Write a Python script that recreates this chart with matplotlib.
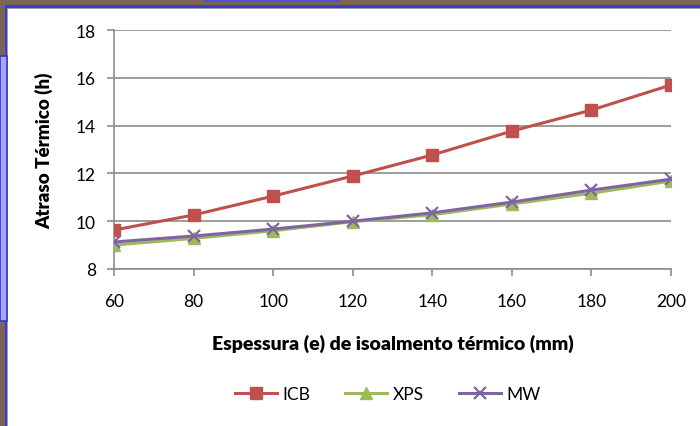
import matplotlib
matplotlib.use("Agg")
import matplotlib.pyplot as plt
from matplotlib.patches import Rectangle

espessura = [60, 80, 100, 120, 140, 160, 180, 200]
icb = [9.63, 10.26, 11.05, 11.89, 12.77, 13.77, 14.65, 15.70]
xps = [9.00, 9.28, 9.60, 9.98, 10.27, 10.72, 11.17, 11.68]
mw = [9.13, 9.38, 9.67, 10.00, 10.35, 10.80, 11.30, 11.76]
yticks = [8, 10, 12, 14, 16, 18]

plt.rcParams['font.family'] = ['Lato', 'DejaVu Sans']

W, H = 700, 427
fig = plt.figure(figsize=(7, 4.27), dpi=100)
fig.patch.set_facecolor('#7a6650')

def px_rect(x0, y0, x1, y1, fc, ec='none', lw=0, z=0):
    r = Rectangle((x0 / W, 1 - y1 / H), (x1 - x0) / W, (y1 - y0) / H,
                  transform=fig.transFigure, facecolor=fc, edgecolor=ec,
                  linewidth=lw, zorder=z)
    fig.patches.append(r)

# decorative screenshot frame
px_rect(5, 6, 700, 427, '#3a3ae0', z=-3)
px_rect(7, 9, 700, 427, '#a0a0a0', z=-2.9)
px_rect(8, 10, 700, 427, 'white', z=-2.8)
px_rect(0, 57, 7, 322, '#a6a6f5', ec='#3434d8', lw=1.2, z=-2.7)
px_rect(203, 0, 340, 3, '#5050e0', z=-2.7)

ax = fig.add_axes([114 / W, 1 - 270 / H, (671 - 114) / W, (270 - 31) / H])
ax.set_facecolor('none')
ax.set_zorder(1)

ax.plot(espessura, icb, color='#C0504D', lw=2.2, marker='s', ms=8.5, label='ICB', zorder=3)
ax.plot(espessura, xps, color='#9BBB59', lw=2.2, marker='^', ms=8.5, label='XPS', zorder=3)
ax.plot(espessura, mw, color='#8064A2', lw=2.2, marker='x', ms=8, mew=1.6, label='MW', zorder=4)

ax.set_xlim(60, 200)
ax.set_ylim(8, 18)
ax.set_xticks(espessura)
ax.set_yticks(yticks)
ax.grid(axis='y', color='#8c8c8c', lw=1.2)
ax.set_axisbelow(True)
for s in ['top', 'right']:
    ax.spines[s].set_visible(False)
for s in ['left', 'bottom']:
    ax.spines[s].set_color('#8c8c8c')
    ax.spines[s].set_linewidth(1.2)
ax.tick_params(axis='both', direction='out', length=5, color='#8c8c8c', width=1.2,
               labelsize=12.5, labelcolor='black')
ax.tick_params(axis='x', pad=12)
ax.tick_params(axis='y', pad=8)

ax.set_xlabel('Espessura (e) de isoalmento térmico (mm)', fontsize=14, fontweight='heavy', labelpad=18)
ax.set_ylabel('Atraso Térmico (h)', fontsize=13.5, fontweight='heavy', labelpad=16)

leg = fig.legend(loc='center', bbox_to_anchor=(388 / W, 1 - 395 / H), ncol=3, frameon=False,
                 fontsize=12.5, handlelength=2.4, columnspacing=2.0, handletextpad=0.35)

fig.savefig('out.png', dpi=100, facecolor=fig.get_facecolor())
